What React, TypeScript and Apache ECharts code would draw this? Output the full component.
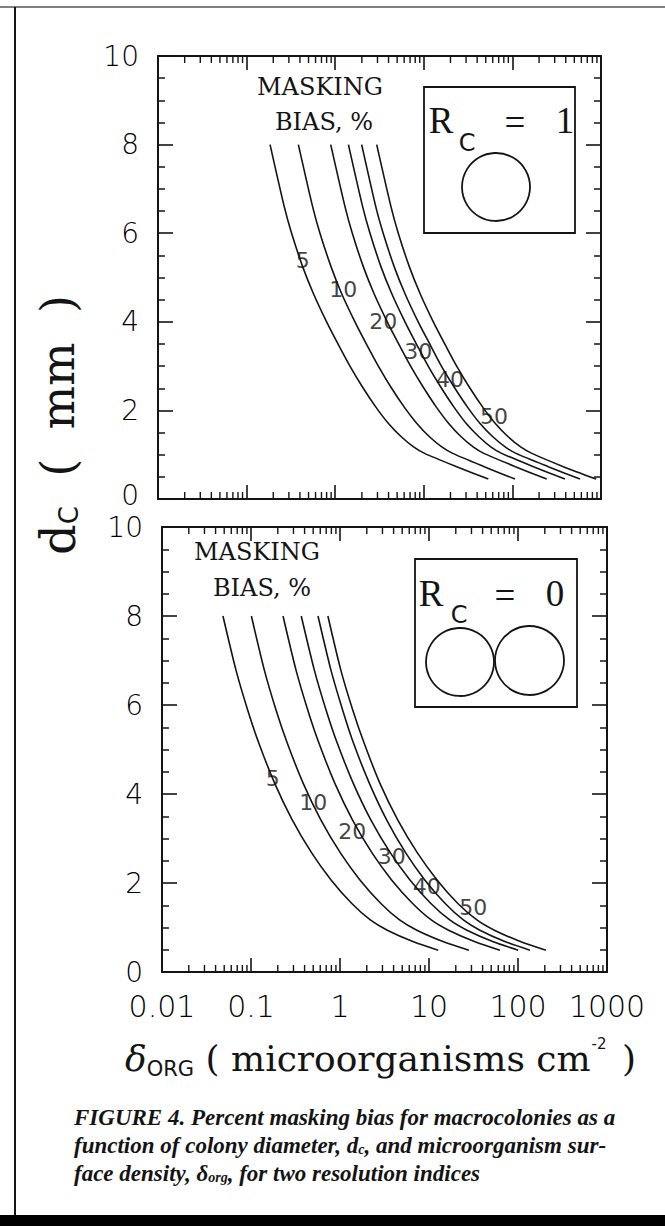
import React, { useEffect, useRef } from 'react';
import * as echarts from 'echarts';

// ---- data ----
const biasLabels = ['5', '10', '20', '30', '40', '50'];
const xTickLabels = ['0.01', '0.1', '1', '10', '100', '1000'];
const yTickValues = [0, 2, 4, 6, 8, 10];
const minorTickValues = [
  0.02, 0.03, 0.04, 0.05, 0.06, 0.07, 0.08, 0.09,
  0.2, 0.3, 0.4, 0.5, 0.6, 0.7, 0.8, 0.9,
  2, 3, 4, 5, 6, 7, 8, 9,
  20, 30, 40, 50, 60, 70, 80, 90,
  200, 300, 400, 500, 600, 700, 800, 900,
];

// R_C = 1 panel: colony diameter (mm) and density for each bias level
const topDiameter = [8, 6.6, 6, 5.24, 4.64, 4, 3.44, 3, 2.54, 2.08, 1.71, 1.41, 1.17, 1.03, 0.73, 0.45];
const topBias5 = [0.184, 0.266, 0.322, 0.43, 0.567, 0.8, 1.116, 1.467, 2.015, 2.866, 3.97, 5.53, 7.74, 10.2, 23.5, 53.5];
const topBias10 = [0.384, 0.556, 0.673, 0.899, 1.18, 1.67, 2.33, 3.07, 4.21, 5.99, 8.3, 11.5, 16.1, 21.2, 48, 107];
const topBias20 = [0.89, 1.29, 1.56, 2.08, 2.74, 3.87, 5.4, 7.1, 9.75, 13.8, 19.0, 26.2, 36.4, 47.5, 108, 244];
const topBias30 = [1.41, 2.04, 2.47, 3.29, 4.34, 6.13, 8.55, 11.2, 15.4, 21.8, 30.0, 41.6, 57.5, 75.5, 173, 392];
const topBias40 = [1.99, 2.87, 3.48, 4.64, 6.12, 8.64, 12.1, 15.8, 21.8, 31.0, 42.9, 59.7, 83.6, 110, 254, 579];
const topBias50 = [2.94, 4.26, 5.15, 6.88, 9.07, 12.8, 17.9, 23.5, 32.3, 46.0, 63.8, 89, 125, 166, 376, 880];
const topLabelX = [0.43, 1.23, 3.49, 8.67, 19.8, 62];
const topLabelY = [5.39, 4.74, 4.0, 3.33, 2.7, 1.86];

// R_C = 0 panel
const botDiameter = [8, 6.79, 5.89, 5.14, 4.24, 3.42, 2.67, 2.07, 1.54, 1.17, 0.94, 0.68, 0.49];
const botBias5 = [0.0484, 0.0677, 0.0917, 0.1226, 0.1847, 0.2906, 0.4825, 0.7935, 1.358, 2.19, 3.4, 6.7, 12.7];
const botBias10 = [0.101, 0.141, 0.191, 0.256, 0.386, 0.609, 1.015, 1.675, 2.88, 4.67, 7.3, 14.6, 28.1];
const botBias20 = [0.229, 0.32, 0.434, 0.581, 0.876, 1.38, 2.3, 3.8, 6.55, 10.6, 16.6, 32.9, 62.6];
const botBias30 = [0.367, 0.514, 0.697, 0.933, 1.41, 2.22, 3.7, 6.11, 10.5, 17.1, 26.7, 52.8, 100.6];
const botBias40 = [0.566, 0.79, 1.07, 1.42, 2.14, 3.34, 5.5, 8.96, 15.2, 24.3, 37.3, 72.3, 136];
const botBias50 = [0.731, 1.02, 1.39, 1.87, 2.81, 4.45, 7.44, 12.3, 21.1, 34.5, 54.2, 108, 206];
const botLabelX = [0.175, 0.501, 1.37, 3.81, 9.42, 31.5];
const botLabelY = [4.35, 3.8, 3.15, 2.59, 1.92, 1.45];

const INK = '#141414';
const SANS = '"DejaVu Sans", sans-serif';
const SERIF = '"DejaVu Serif", serif';
const TIMES = '"Liberation Serif", serif';

function App() {
  const ref = useRef<HTMLDivElement>(null);

  useEffect(() => {
    if (!ref.current) return;
    const chart = echarts.init(ref.current, undefined, { renderer: 'svg' });

    const axisLine = { show: true, onZero: false, lineStyle: { color: INK, width: 2 } };
    const majorTick = (len: number) => ({ show: true, inside: true, length: len, lineStyle: { color: INK, width: 1.6 } });

    const xAxisFor = (gridIndex: number, position: 'top' | 'bottom', labels: boolean) => ({
      type: 'log',
      logBase: 10,
      gridIndex,
      position,
      min: 0.01,
      max: 1000,
      axisLine,
      axisTick: majorTick(14),
      splitLine: { show: false },
      axisLabel: labels
        ? {
            show: true,
            margin: 19,
            fontFamily: SANS,
            fontWeight: 200,
            fontSize: 30,
            color: '#000',
            formatter: (v: number) => xTickLabels[Math.round(Math.log10(v)) + 2] ?? '',
          }
        : { show: false },
    });

    const yAxisFor = (gridIndex: number, position: 'left' | 'right', labels: boolean, liftZero: boolean) => ({
      type: 'value',
      gridIndex,
      position,
      min: 0,
      max: 10,
      interval: 2,
      axisLine,
      axisTick: majorTick(15),
      minorTick: { show: true, splitNumber: 4, length: 7, lineStyle: { color: INK, width: 1.5 } },
      splitLine: { show: false },
      minorSplitLine: { show: false },
      axisLabel: labels
        ? {
            show: true,
            margin: 19,
            fontFamily: SANS,
            fontWeight: 200,
            fontSize: 28,
            color: '#000',
            formatter: (v: number) => {
              if (!yTickValues.includes(v)) return '';
              return liftZero && v === 0 ? '{z|0}' : String(v);
            },
            rich: {
              z: { fontFamily: SANS, fontWeight: 200, fontSize: 28, color: '#000', padding: [0, 0, 8, 0] },
            },
          }
        : { show: false },
    });

    const curve = (xs: number[], ys: number[], xi: number, yi: number) => ({
      type: 'line',
      xAxisIndex: xi,
      yAxisIndex: yi,
      data: xs.map((x, i) => [x, ys[i]]),
      showSymbol: false,
      symbol: 'none',
      smooth: 0.25,
      lineStyle: { color: INK, width: 1.6 },
      silent: true,
      z: 3,
    });

    const labelSeries = (xs: number[], ys: number[], xi: number, yi: number) => ({
      type: 'scatter',
      xAxisIndex: xi,
      yAxisIndex: yi,
      symbol: 'circle',
      symbolSize: 2,
      itemStyle: { color: 'rgba(0,0,0,0)' },
      silent: true,
      z: 6,
      data: xs.map((x, i) => [x, ys[i], biasLabels[i]]),
      label: {
        show: true,
        position: 'inside',
        formatter: (p: any) => p.value[2],
        fontFamily: SANS,
        fontWeight: 'normal',
        fontSize: 22,
        color: '#111',
        textBorderWidth: 0,
      },
    });

    const minorTicks = (xi: number, yi: number) => ({
      type: 'custom',
      xAxisIndex: xi,
      yAxisIndex: yi,
      silent: true,
      clip: false,
      z: 5,
      data: minorTickValues.map((v) => [v, 0]),
      renderItem: (_params: any, api: any) => {
        const v = api.value(0);
        const b = api.coord([v, 0]);
        const t = api.coord([v, 10]);
        const st = { stroke: INK, lineWidth: 1.4 };
        return {
          type: 'group',
          children: [
            { type: 'line', shape: { x1: b[0], y1: b[1], x2: b[0], y2: b[1] - 7 }, style: st },
            { type: 'line', shape: { x1: t[0], y1: t[1], x2: t[0], y2: t[1] + 7 }, style: st },
          ],
        };
      },
    });

    const serifText = (text: string, x: number, y: number, size: number, extra: any = {}) => ({
      type: 'text',
      x,
      y,
      style: {
        text,
        fontFamily: SERIF,
        fontSize: size,
        fill: INK,
        textAlign: 'center',
        textVerticalAlign: 'middle',
        ...extra,
      },
    });

    const subC = (x: number, y: number) => ({
      type: 'text',
      x,
      y,
      style: { text: 'C', fontFamily: SANS, fontSize: 24, fill: INK, textAlign: 'center', textVerticalAlign: 'middle' },
    });

    const insetStroke = { stroke: INK, lineWidth: 1.8, fill: 'none' };
    const capStyle = { fontFamily: TIMES, fontStyle: 'italic', fontWeight: 'bold', fontSize: 23, fill: INK };
    const capSub = { fontFamily: TIMES, fontStyle: 'italic', fontWeight: 'bold', fontSize: 14, fill: INK, verticalAlign: 'bottom', padding: [9, 0, 0, 0] };

    const graphic: any[] = [
      // page frame
      { type: 'line', shape: { x1: 0, y1: 7, x2: 665, y2: 7 }, style: { stroke: '#555', lineWidth: 1.5 } },
      { type: 'line', shape: { x1: 15, y1: 7, x2: 15, y2: 1226 }, style: { stroke: INK, lineWidth: 2 } },
      { type: 'rect', shape: { x: 0, y: 1215, width: 665, height: 11 }, style: { fill: '#000' } },

      // top panel annotations
      serifText('MASKING', 320, 87, 24),
      serifText('BIAS, %', 324, 122, 24),
      { type: 'rect', shape: { x: 424, y: 87, width: 151, height: 146 }, style: insetStroke },
      serifText('R', 441, 120, 37, { fontFamily: TIMES }),
      subC(467, 143),
      serifText('=', 515, 122, 37, { fontFamily: TIMES }),
      serifText('1', 565, 120, 37, { fontFamily: TIMES }),
      { type: 'circle', shape: { cx: 496, cy: 187, r: 34 }, style: insetStroke },

      // bottom panel annotations
      serifText('MASKING', 257, 552, 24),
      serifText('BIAS, %', 262, 588, 24),
      { type: 'rect', shape: { x: 415, y: 559, width: 162, height: 148 }, style: insetStroke },
      serifText('R', 431, 593, 37, { fontFamily: TIMES }),
      subC(459, 615),
      serifText('=', 505, 595, 37, { fontFamily: TIMES }),
      serifText('0', 555, 593, 37, { fontFamily: TIMES }),
      { type: 'circle', shape: { cx: 460, cy: 662, r: 34 }, style: insetStroke },
      { type: 'circle', shape: { cx: 529.5, cy: 660.5, r: 34.5 }, style: insetStroke },

      // y axis title
      {
        type: 'text',
        x: 58,
        y: 425,
        rotation: Math.PI / 2,
        style: {
          text: '{d|d}{c|C}{t|  (  mm  )}',
          textAlign: 'center',
          textVerticalAlign: 'middle',
          fill: INK,
          rich: {
            d: { fontFamily: SERIF, fontSize: 48, fill: INK },
            c: { fontFamily: SANS, fontSize: 26, fill: INK, verticalAlign: 'bottom', padding: [20, 0, 0, 0] },
            t: { fontFamily: SERIF, fontSize: 46, fill: INK },
          },
        },
      },

      // x axis title
      {
        type: 'text',
        x: 125,
        y: 1058,
        style: {
          text: '{d|δ}{o|ORG}{t| ( microorganisms cm}{s|-2}{t| )}',
          textAlign: 'left',
          textVerticalAlign: 'middle',
          fill: INK,
          rich: {
            d: { fontFamily: SERIF, fontStyle: 'italic', fontSize: 36, fill: INK },
            o: { fontFamily: SANS, fontSize: 21, fill: INK, verticalAlign: 'bottom', padding: [22, 0, 0, 0] },
            t: { fontFamily: SERIF, fontSize: 36, fill: INK },
            s: { fontFamily: SANS, fontSize: 15, fill: INK, verticalAlign: 'top', padding: [0, 4, 14, 1] },
          },
        },
      },

      // caption
      {
        type: 'text',
        x: 74,
        y: 1117,
        style: { text: '{a|FIGURE 4. Percent masking bias for macrocolonies as a}', textVerticalAlign: 'middle', rich: { a: capStyle } },
      },
      {
        type: 'text',
        x: 74,
        y: 1145,
        style: {
          text: '{a|function of colony diameter, d}{s|c}{a|, and microorganism sur-}',
          textVerticalAlign: 'middle',
          rich: { a: capStyle, s: capSub },
        },
      },
      {
        type: 'text',
        x: 74,
        y: 1173,
        style: {
          text: '{a|face density, δ}{s|org}{a|, for two resolution indices}',
          textVerticalAlign: 'middle',
          rich: { a: capStyle, s: capSub },
        },
      },
    ];

    chart.setOption({
      animation: false,
      backgroundColor: '#ffffff',
      grid: [
        { left: 158, top: 56, width: 443, height: 443, containLabel: false },
        { left: 162, top: 527, width: 445, height: 445, containLabel: false },
      ],
      xAxis: [
        xAxisFor(0, 'bottom', false),
        xAxisFor(0, 'top', false),
        xAxisFor(1, 'bottom', true),
        xAxisFor(1, 'top', false),
      ],
      yAxis: [
        yAxisFor(0, 'left', true, true),
        yAxisFor(0, 'right', false, false),
        yAxisFor(1, 'left', true, false),
        yAxisFor(1, 'right', false, false),
      ],
      series: [
        curve(topBias5, topDiameter, 0, 0),
        curve(topBias10, topDiameter, 0, 0),
        curve(topBias20, topDiameter, 0, 0),
        curve(topBias30, topDiameter, 0, 0),
        curve(topBias40, topDiameter, 0, 0),
        curve(topBias50, topDiameter, 0, 0),
        labelSeries(topLabelX, topLabelY, 0, 0),
        minorTicks(0, 0),
        curve(botBias5, botDiameter, 2, 2),
        curve(botBias10, botDiameter, 2, 2),
        curve(botBias20, botDiameter, 2, 2),
        curve(botBias30, botDiameter, 2, 2),
        curve(botBias40, botDiameter, 2, 2),
        curve(botBias50, botDiameter, 2, 2),
        labelSeries(botLabelX, botLabelY, 2, 2),
        minorTicks(2, 2),
      ],
      graphic,
    });

    return () => chart.dispose();
  }, []);

  return (
    <div
      ref={ref}
      style={{ position: 'absolute', left: 0, top: 0, width: 665, height: 1226, background: '#fff' }}
    />
  );
}

export default App;
